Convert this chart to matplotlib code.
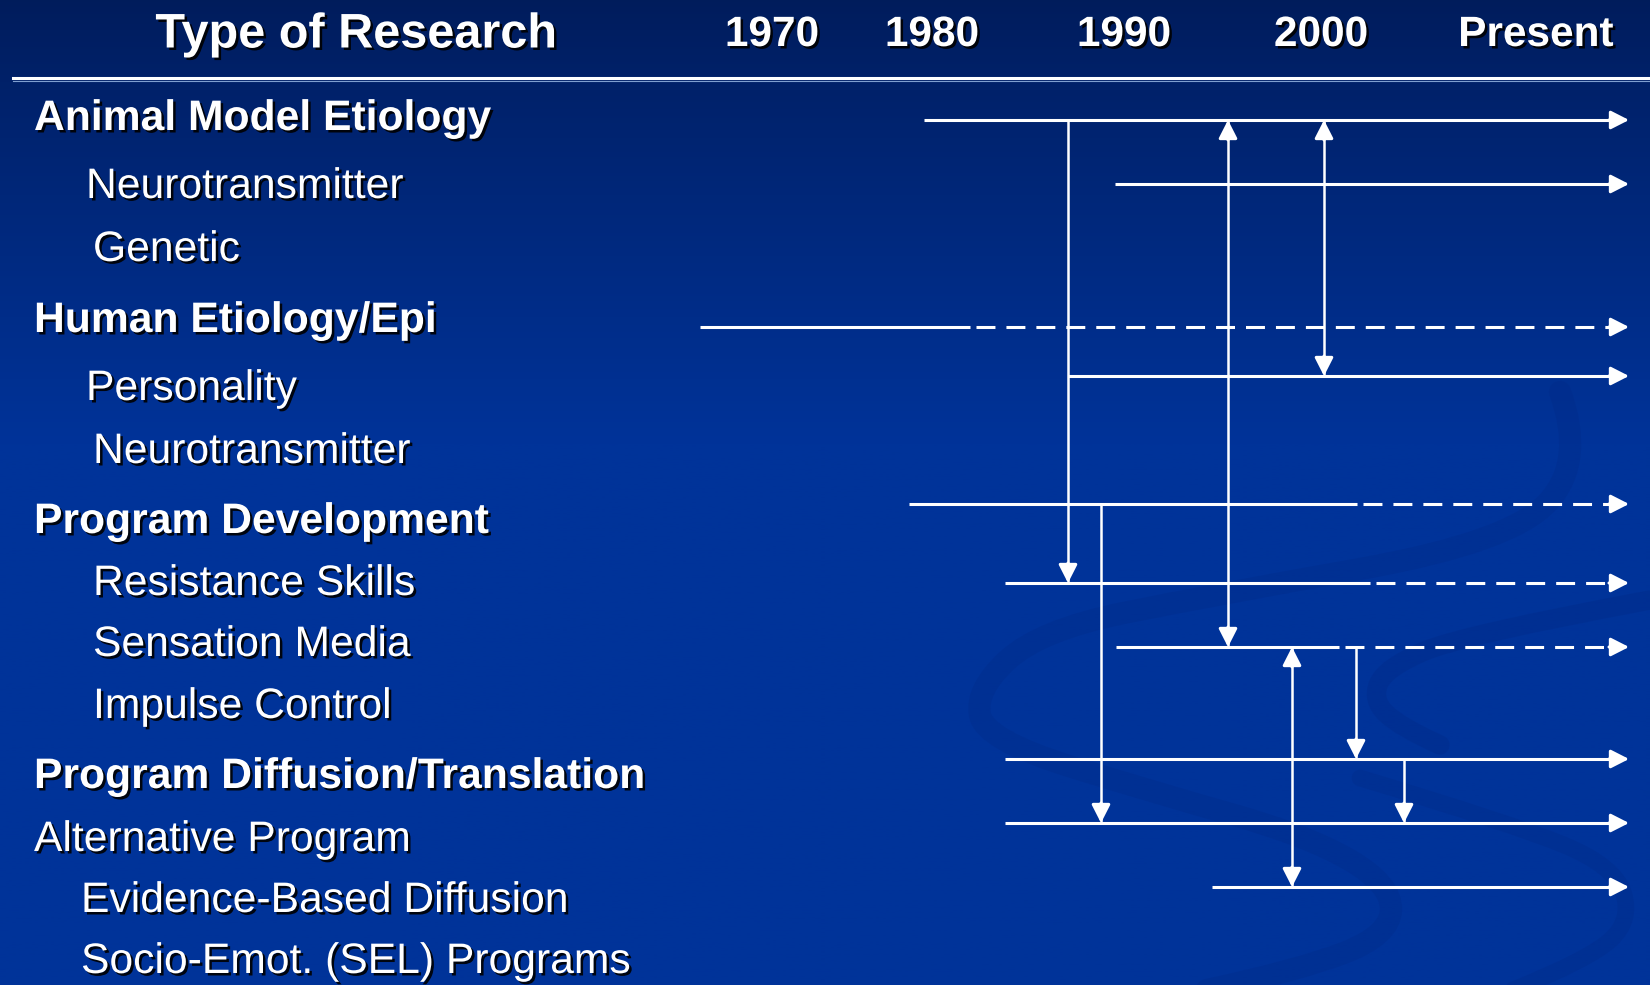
import numpy as np
import matplotlib
matplotlib.use("Agg")
import matplotlib.pyplot as plt
import matplotlib.patheffects as pe
from matplotlib.patches import FancyArrowPatch, PathPatch
from matplotlib.path import Path

plt.rcParams['font.family'] = ['Liberation Sans', 'DejaVu Sans']

W, H = 1650, 985

# header
header_labels = ["Type of Research", "1970", "1980", "1990", "2000", "Present"]
header_x = [356, 772, 932, 1124, 1321, 1536]
header_size = [35, 30.5, 30.5, 30.5, 30.5, 30.5]

# row labels
row_labels = ["Animal Model Etiology", "Neurotransmitter", "Genetic",
              "Human Etiology/Epi", "Personality", "Neurotransmitter",
              "Program Development", "Resistance Skills", "Sensation Media",
              "Impulse Control", "Program Diffusion/Translation",
              "Alternative Program", "Evidence-Based Diffusion",
              "Socio-Emot. (SEL) Programs"]
row_x = [34, 86, 93, 34, 86, 93, 34, 93, 93, 93, 34, 34, 81, 81]
row_y = [119, 187, 250, 321, 389, 452, 522, 584, 645, 707, 777, 840, 901, 962]
row_bold = [1, 0, 0, 1, 0, 0, 1, 0, 0, 0, 1, 0, 0, 0]

# timelines: y, start, where dashing begins (None = solid)
tl_y = [120, 184, 327, 376, 504, 583, 647, 759, 823, 887]
tl_start = [924, 1115, 700, 1068, 909, 1005, 1116, 1005, 1005, 1212]
tl_dash = [None, None, 970, None, 1357, 1370, 1339, None, None, None]
tl_end = 1629

# vertical links: x, from y, to y, heads
link_x = [1068, 1228, 1324, 1101, 1292, 1356, 1404]
link_y0 = [120, 120, 120, 504, 647, 647, 759]
link_y1 = [583, 647, 376, 823, 887, 759, 823]
link_both = [0, 1, 1, 0, 1, 0, 0]

fig = plt.figure(figsize=(16.5, 9.85), dpi=100)
ax = fig.add_axes([0, 0, 1, 1])
ax.set_xlim(0, W)
ax.set_ylim(H, 0)
ax.axis('off')

# background gradient
t = np.linspace(0, 1, 400)[:, None]
top = np.array([0.0, 0.11, 0.36])
mid = np.array([0.0, 0.20, 0.60])
k = np.clip(t / 0.45, 0, 1) ** 0.9
grad = top + (mid - top) * k[..., None]
grad = np.repeat(grad, 2, axis=1)
ax.imshow(grad, extent=[0, W, H, 0], aspect='auto', zorder=0)


def smooth_path(pts):
    pts = np.asarray(pts, float)
    verts = [pts[0]]
    codes = [Path.MOVETO]
    for i in range(1, len(pts) - 1):
        end = pts[i + 1] if i == len(pts) - 2 else (pts[i] + pts[i + 1]) / 2
        verts += [pts[i], end]
        codes += [Path.CURVE3, Path.CURVE3]
    return Path(verts, codes)


# faint swirl bands in the lower right
swirl_col = (0.0, 0.15, 0.50)
swirls = [
    ([(1560, 392), (1585, 460), (1513, 542), (1207, 596), (1040, 630),
      (975, 690), (985, 740), (1156, 793), (1309, 836), (1392, 885),
      (1390, 935), (1300, 970), (1207, 990)], 16, 0.22),
    ([(1650, 600), (1462, 635), (1385, 668), (1372, 700), (1400, 727),
      (1440, 745)], 14, 0.25),
    ([(1360, 778), (1513, 824), (1615, 866), (1632, 920), (1590, 959),
      (1513, 990)], 12, 0.22),
]
for pts, w, a in swirls:
    ax.add_patch(PathPatch(smooth_path(pts), fill=False, lw=w, ec=swirl_col,
                           alpha=a, zorder=1, capstyle='round'))

shadow = [pe.withSimplePatchShadow(offset=(1.8, -1.8), shadow_rgbFace='black', alpha=0.9)]

for lab, x, s in zip(header_labels, header_x, header_size):
    ax.text(x, 35, lab, color='white', fontsize=s, fontweight='bold',
            ha='center', va='center', path_effects=shadow, zorder=5)

ax.plot([13, W], [78, 78], color='white', lw=2.2, zorder=3)
ax.plot([13, W], [80.5, 80.5], color='#7f9fd0', lw=0.8, zorder=3)

for lab, x, y, b in zip(row_labels, row_x, row_y, row_bold):
    ax.text(x, y, lab, color='white', fontsize=30.7,
            fontweight='bold' if b else 'normal',
            ha='left', va='center', path_effects=shadow, zorder=5)


def head(x0, y0, x1, y1):
    ax.add_patch(FancyArrowPatch((x0, y0), (x1, y1),
                                 arrowstyle='-|>,head_length=11,head_width=5.6',
                                 mutation_scale=1, color='white', lw=2.2,
                                 shrinkA=0, shrinkB=0, zorder=4))


lw = 2.2
for y, x0, xd in zip(tl_y, tl_start, tl_dash):
    if xd is None:
        ax.plot([x0, tl_end - 14], [y, y], color='white', lw=lw, zorder=3,
                solid_capstyle='butt')
    else:
        ax.plot([x0, xd], [y, y], color='white', lw=lw, zorder=3,
                solid_capstyle='butt')
        ax.plot([xd + 6, tl_end - 16], [y, y], color='white', lw=lw, zorder=3,
                dashes=(6.2, 3.6), dash_capstyle='butt')
    head(tl_end - 20, y, tl_end, y)

for x, y0, y1, both in zip(link_x, link_y0, link_y1, link_both):
    ax.plot([x, x], [y0, y1], color='white', lw=1.8, zorder=3,
            solid_capstyle='butt')
    head(x, y1 - 20, x, y1)
    if both:
        head(x, y0 + 20, x, y0)

fig.savefig("out.png", dpi=100)
